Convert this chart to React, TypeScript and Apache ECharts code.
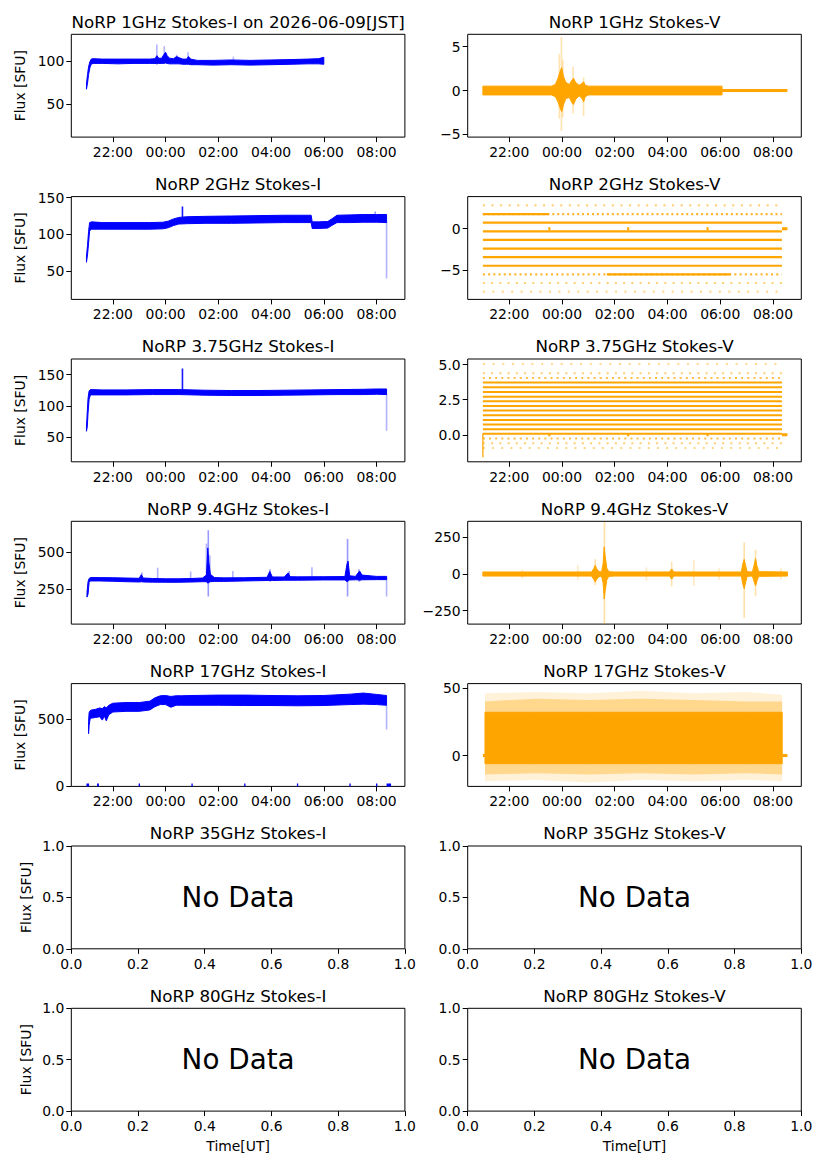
import { useEffect, useRef } from 'react';
import * as echarts from 'echarts';

const FONT = 'DejaVu Sans';
const BLUE = '#0000ff';
const ORANGE = '#ffa500';

// time axis in hours of the JST start day (24 = 00:00 next day)
const timeTicks = [22, 24, 26, 28, 30, 32];
const unitTicks = [0, 0.2, 0.4, 0.6, 0.8, 1];
const timeMin = 20.425;
const timeMax = 33.075;

const titles = [
  'NoRP 1GHz Stokes-I on 2026-06-09[JST]', 'NoRP 1GHz Stokes-V',
  'NoRP 2GHz Stokes-I', 'NoRP 2GHz Stokes-V',
  'NoRP 3.75GHz Stokes-I', 'NoRP 3.75GHz Stokes-V',
  'NoRP 9.4GHz Stokes-I', 'NoRP 9.4GHz Stokes-V',
  'NoRP 17GHz Stokes-I', 'NoRP 17GHz Stokes-V',
  'NoRP 35GHz Stokes-I', 'NoRP 35GHz Stokes-V',
  'NoRP 80GHz Stokes-I', 'NoRP 80GHz Stokes-V',
];

const yMin = [11.4, -5.3, 11.4, -8.54, 9.9, -1.92, 11.4, -341, 0, -22.8, 0, 0, 0, 0];
const yMax = [130.8, 6.4, 151.4, 3.87, 175.2, 5.4, 711, 359, 760, 53.2, 1, 1, 1, 1];
const yTicks = [
  [50, 100], [-5, 0, 5], [50, 100, 150], [-5, 0], [50, 100, 150], [0, 2.5, 5],
  [250, 500], [-250, 0, 250], [0, 500], [0, 50],
  [0, 0.5, 1], [0, 0.5, 1], [0, 0.5, 1], [0, 0.5, 1],
];
const yDecimals = [0, 0, 0, 0, 0, 1, 0, 0, 0, 0, 1, 1, 1, 1];

// 1 GHz Stokes-I
const p1Time = [21.0, 21.04, 21.08, 21.13, 21.18, 21.25, 21.6, 22.2, 22.8, 23.4, 23.6, 23.67, 23.74, 23.85, 23.93, 24.0, 24.06, 24.15, 24.3, 24.42, 24.52, 24.65, 24.8, 24.87, 24.95, 25.2, 25.8, 26.5, 27.2, 28.0, 28.8, 29.4, 29.8, 30.0];
const p1Lo = [67, 74, 84, 92, 96, 97, 97, 96.5, 97, 97, 97, 96.5, 97, 97, 97, 97.5, 97, 96.5, 96.5, 96.5, 96.5, 96, 96, 96, 95.5, 95.5, 95, 95.5, 95, 95.5, 96, 96.5, 96.5, 96];
const p1Hi = [73, 84, 93, 99, 102, 102.5, 102, 102, 102, 102, 102.5, 106, 103, 103, 107, 110, 106, 103, 102.5, 105, 103.5, 102, 102, 105, 102, 100.5, 100.5, 101, 100.5, 101, 101.5, 102, 102.5, 104];
const p1SpikeTime = [23.67, 23.95, 24.42, 24.85, 26.57, 29.95];
const p1SpikeLo = [102, 105, 102, 102, 100, 96];
const p1SpikeHi = [119, 117, 107, 110, 105, 104.5];
const p1SpikeDensity = [0.3, 0.3, 0.3, 0.3, 0.25, 0.5];

// 1 GHz Stokes-V
const p2Time = [21.0, 23.6, 23.75, 23.85, 23.93, 23.99, 24.06, 24.15, 24.28, 24.38, 24.44, 24.52, 24.65, 24.76, 24.82, 24.88, 25.0, 30.07];
const p2Lo = [-0.5, -0.5, -0.7, -1.3, -2.0, -2.4, -1.6, -0.9, -0.8, -1.4, -1.6, -1.0, -0.6, -0.9, -1.3, -0.7, -0.5, -0.5];
const p2Hi = [0.5, 0.5, 0.7, 1.4, 2.2, 2.6, 1.6, 0.9, 0.7, 1.2, 1.4, 0.9, 0.6, 0.8, 1.0, 0.6, 0.5, 0.5];
const p2SpikeTime = [23.9, 23.98, 24.03, 24.42, 24.82];
const p2SpikeLo = [-3.2, -4.6, -3.0, -2.6, -2.9];
const p2SpikeHi = [4.2, 6.1, 3.5, 2.7, 1.5];
const p2SpikeDensity = [0.3, 0.3, 0.3, 0.3, 0.3];
const p2TailStart = [30.07];
const p2TailEnd = [32.55];

// 2 GHz Stokes-I
const p3Time = [21.0, 21.04, 21.08, 21.12, 21.2, 21.6, 22.2, 22.8, 23.4, 23.9, 24.1, 24.3, 24.5, 24.8, 25.5, 26.5, 27.5, 28.5, 29.2, 29.52, 29.56, 29.8, 30.15, 30.3, 30.5, 31.0, 31.5, 32.0, 32.38];
const p3Lo = [62, 72, 88, 105, 107, 107, 107, 107, 107, 107.5, 109, 112, 114, 114.5, 115, 115, 115.5, 116, 116, 116, 108, 108, 108.5, 112, 116, 116, 116.5, 116.5, 116];
const p3Hi = [70, 85, 104, 116, 117, 116, 116, 116, 116, 116.5, 118, 121, 123, 124, 124.5, 125, 125.5, 126, 126, 126, 117, 117, 117.5, 121, 126, 126.5, 127, 127, 127];
const p3SpikeTime = [24.64, 31.95, 32.38];
const p3SpikeLo = [118, 124, 40];
const p3SpikeHi = [138, 131, 118];
const p3SpikeDensity = [0.9, 0.4, 0.3];

// 2 GHz Stokes-V (quantised levels)
const p4Levels = [2.8, 1.76, 0.72, -0.32, -1.36, -2.4, -3.44, -4.48, -5.52, -6.56, -7.6];
const p4Density = [0.2, 0.72, 1, 1, 1, 1, 1, 1, 0.68, 0.25, 0.08];
const p4Start = 21.0;
const p4End = 32.34;
// stretches where a sparse level is filled in densely
const p4DenseLevel = [1.76, -5.52];
const p4DenseStart = [21.0, 25.7];
const p4DenseEnd = [23.5, 30.4];

// zero-valued gaps shared by 2 GHz and 3.75 GHz Stokes-V
const gapStart = [23.48, 26.47, 29.48, 32.34];
const gapEnd = [23.56, 26.55, 29.56, 32.55];

// 3.75 GHz Stokes-I
const p5Time = [21.0, 21.03, 21.06, 21.1, 21.15, 21.6, 22.5, 23.5, 24.5, 25.5, 26.5, 27.5, 28.5, 29.5, 30.5, 31.5, 32.0, 32.38];
const p5Lo = [59, 66, 88, 110, 117.5, 117.5, 117.5, 118, 118, 117, 116.5, 116.5, 117, 117.5, 118, 118, 118.5, 118];
const p5Hi = [66, 90, 112, 124, 126, 125.5, 125.5, 126, 126, 125, 124.5, 124.5, 125, 125.5, 126, 126.5, 127, 127];
const p5SpikeTime = [24.64, 32.38];
const p5SpikeLo = [124, 60];
const p5SpikeHi = [160, 119];
const p5SpikeDensity = [0.9, 0.3];

// 3.75 GHz Stokes-V (quantised levels)
const p6Levels = [5.05, 4.38, 4.05, 3.72, 3.38, 3.05, 2.72, 2.39, 2.06, 1.73, 1.40, 1.06, 0.73, 0.40, 0.07, -0.26, -0.60, -0.93];
const p6Density = [0.04, 0.25, 0.55, 0.85, 1, 1, 1, 1, 1, 1, 1, 1, 1, 1, 1, 0.55, 0.25, 0.12];
const p6Start = 21.0;
const p6End = 32.34;
const p6SpikeTime = [21.0];
const p6SpikeLo = [-1.6];
const p6SpikeHi = [0.1];
const p6SpikeDensity = [0.8];

// 9.4 GHz Stokes-I
const p7Time = [21.02, 21.06, 21.1, 21.15, 21.5, 22.0, 22.5, 23.0, 23.08, 23.15, 23.5, 24.0, 24.5, 25.0, 25.4, 25.55, 25.6, 25.64, 25.7, 25.85, 26.2, 27.0, 27.85, 27.95, 28.05, 28.5, 28.65, 28.72, 29.0, 30.0, 30.8, 30.88, 30.92, 30.98, 31.2, 31.3, 31.36, 31.45, 32.0, 32.38];
const p7Lo = [195, 215, 295, 305, 305, 303, 300, 298, 300, 298, 297, 296, 296, 298, 300, 300, 290, 295, 300, 302, 302, 305, 308, 308, 308, 310, 310, 310, 310, 312, 312, 300, 305, 312, 313, 313, 310, 313, 314, 314];
const p7Hi = [225, 300, 322, 328, 328, 327, 325, 323, 348, 325, 322, 320, 320, 322, 325, 345, 530, 430, 350, 328, 326, 327, 330, 370, 332, 332, 360, 334, 333, 334, 335, 420, 440, 340, 336, 360, 372, 345, 336, 336];
const p7SpikeTime = [25.62, 30.9, 31.33, 27.96, 28.69, 23.1, 23.7, 24.95, 26.55, 29.55, 32.38, 25.55, 25.68];
const p7SpikeLo = [200, 200, 300, 300, 305, 305, 315, 315, 318, 320, 200, 300, 300];
const p7SpikeHi = [650, 590, 385, 385, 372, 362, 395, 370, 372, 398, 335, 560, 480];
const p7SpikeDensity = [0.4, 0.4, 0.4, 0.4, 0.35, 0.35, 0.3, 0.3, 0.3, 0.3, 0.3, 0.3, 0.3];

// 9.4 GHz Stokes-V
const p8Time = [21.0, 25.12, 25.2, 25.26, 25.32, 25.4, 25.5, 25.56, 25.6, 25.64, 25.7, 25.78, 26.0, 28.08, 28.16, 28.24, 30.8, 30.86, 30.91, 30.96, 31.02, 31.22, 31.28, 31.34, 31.4, 31.46, 32.55];
const p8Lo = [-14, -14, -35, -55, -35, -18, -14, -60, -170, -110, -40, -16, -14, -14, -35, -14, -14, -70, -100, -60, -16, -14, -50, -80, -45, -16, -14];
const p8Hi = [14, 14, 35, 60, 35, 18, 14, 70, 185, 120, 40, 16, 14, 14, 35, 14, 14, 70, 100, 60, 16, 14, 55, 105, 50, 16, 14];
const p8SpikeTime = [25.61, 25.26, 30.91, 31.34, 28.16, 24.6, 27.2, 29.0, 22.5, 29.95, 32.3];
const p8SpikeLo = [-340, -75, -300, -150, -85, -40, -45, -80, -30, -40, -35];
const p8SpikeHi = [355, 100, 215, 165, 85, 60, 45, 95, 30, 40, 40];
const p8SpikeDensity = [0.35, 0.35, 0.35, 0.35, 0.3, 0.25, 0.25, 0.25, 0.25, 0.25, 0.25];

// 17 GHz Stokes-I
const p9Time = [21.08, 21.1, 21.14, 21.2, 21.35, 21.5, 21.6, 21.68, 21.75, 21.85, 22.0, 22.5, 23.0, 23.4, 23.6, 23.8, 24.0, 24.2, 24.4, 24.6, 25.0, 26.0, 27.0, 28.0, 29.0, 30.0, 31.0, 31.5, 32.0, 32.38];
const p9Lo = [390, 450, 500, 505, 510, 515, 490, 520, 485, 530, 550, 555, 555, 565, 590, 605, 605, 585, 600, 600, 600, 600, 598, 598, 596, 598, 605, 608, 605, 600];
const p9Hi = [480, 545, 560, 565, 570, 580, 575, 590, 580, 600, 615, 620, 620, 630, 655, 670, 672, 665, 670, 670, 672, 675, 675, 672, 670, 672, 682, 690, 680, 672];
const p9SpikeTime = [32.38];
const p9SpikeLo = [420];
const p9SpikeHi = [600];
const p9SpikeDensity = [0.3];
const p9ZeroStart = [21.0, 21.4, 22.98, 24.98, 26.98, 28.98, 30.97, 31.98, 32.38];
const p9ZeroEnd = [21.1, 21.47, 23.03, 25.03, 27.03, 29.03, 31.02, 32.03, 32.55];

// 17 GHz Stokes-V
const p10Time = [21.08, 23.0, 25.0, 27.0, 29.0, 31.0, 32.35];
const p10Lo = [-6, -6, -6, -6, -6, -6, -6];
const p10Hi = [32, 32, 32, 32, 32, 32, 32];
const p10HazeLo = [-14, -13, -14, -13, -14, -13, -14];
const p10HazeHi = [40, 42, 41, 42, 41, 40, 40];
const p10OuterLo = [-19, -18, -20, -18, -19, -18, -19];
const p10OuterHi = [46, 47, 46, 48, 46, 47, 45];
const p10ZeroStart = [21.0, 32.35];
const p10ZeroEnd = [21.08, 32.55];

// layout of the 7 x 2 panel grid (pixels)
const ROW_TOP = [34.3, 196.6, 359, 521.3, 683.6, 846, 1008.3];
const COL_LEFT = [71.3, 467.7];
const PLOT_W = 333.6;
const PLOT_H = 102.8;

const pick = (v: number | number[], i: number) => (Array.isArray(v) ? v[i] : v);

const fmtTime = (v: number) => String(Math.round(v) % 24).padStart(2, '0') + ':00';
const fmtNum = (d: number) => (v: number) => (v < 0 ? '\u2212' : '') + Math.abs(v).toFixed(d);

// filled envelope between lo and hi
const band = (idx: number, t: number[], lo: number[], hi: number[], color: string, opacity = 1) => ({
  type: 'custom',
  xAxisIndex: idx,
  yAxisIndex: idx,
  clip: true,
  silent: true,
  encode: { x: 0, y: [1, 2] },
  data: t.map((x, i) => [x, lo[i], hi[i]]),
  renderItem: (params: any, api: any) => {
    if (params.dataIndex !== 0) return null;
    const top = t.map((x, i) => api.coord([x, hi[i]]));
    const bottom = t.map((x, i) => api.coord([x, lo[i]])).reverse();
    return {
      type: 'polygon',
      shape: { points: top.concat(bottom) },
      style: { fill: color, stroke: color, lineWidth: opacity < 1 ? 0 : 1, opacity },
    };
  },
});

// vertical scatter streaks
const spikes = (idx: number, t: number[], lo: number[], hi: number[], density: number[], color: string) => ({
  type: 'custom',
  xAxisIndex: idx,
  yAxisIndex: idx,
  clip: true,
  silent: true,
  encode: { x: 0, y: [1, 2] },
  data: t.map((x, i) => [x, lo[i], hi[i], density[i]]),
  renderItem: (_params: any, api: any) => {
    const a = api.coord([api.value(0), api.value(1)]);
    const b = api.coord([api.value(0), api.value(2)]);
    return {
      type: 'line',
      shape: { x1: a[0], y1: a[1], x2: b[0], y2: b[1] },
      style: { stroke: color, lineWidth: 1.6, opacity: api.value(3) },
    };
  },
});

// horizontal runs of constant value (quantised levels, zero gaps)
const flats = (
  idx: number,
  t0: number | number[],
  t1: number | number[],
  y: number[],
  density: number | number[],
  color: string,
  width: number,
) => ({
  type: 'custom',
  xAxisIndex: idx,
  yAxisIndex: idx,
  clip: true,
  silent: true,
  encode: { x: [0, 1], y: 2 },
  data: y.map((v, i) => [pick(t0, i), pick(t1, i), v, pick(density, i)]),
  renderItem: (_params: any, api: any) => {
    const d = api.value(3);
    const a = api.coord([api.value(0), api.value(2)]);
    const b = api.coord([api.value(1), api.value(2)]);
    return {
      type: 'line',
      shape: { x1: a[0], y1: a[1], x2: b[0], y2: b[1] },
      style: {
        stroke: color,
        lineWidth: width,
        opacity: d >= 0.8 ? 1 : 0.4 + 0.6 * d,
        lineDash: d >= 0.8 ? null : [2, 1 + 7 * (1 - d)],
      },
    };
  },
});

const buildOption = () => {
  const grid = titles.map((_, i) => ({
    left: COL_LEFT[i % 2],
    top: ROW_TOP[Math.floor(i / 2)],
    width: PLOT_W,
    height: PLOT_H,
    show: true,
    borderColor: '#000',
    borderWidth: 1,
    containLabel: false,
    outerBoundsMode: 'none',
  }));

  const labelStyle = { fontSize: 13.9, color: '#000', fontFamily: FONT };

  const xAxis = titles.map((_, i) => {
    const timed = i < 10;
    const ticks = timed ? timeTicks : unitTicks;
    return {
      type: 'value',
      gridIndex: i,
      min: timed ? timeMin : 0,
      max: timed ? timeMax : 1,
      axisLine: { show: false, onZero: false },
      axisTick: { show: true, length: 5, customValues: ticks, lineStyle: { color: '#000', width: 1 } },
      axisLabel: { ...labelStyle, customValues: ticks, margin: 8, formatter: timed ? fmtTime : fmtNum(1) },
      splitLine: { show: false },
      name: i >= 12 ? 'Time[UT]' : '',
      nameLocation: 'middle',
      nameGap: 28,
      nameTextStyle: labelStyle,
    };
  });

  const yAxis = titles.map((_, i) => ({
    type: 'value',
    gridIndex: i,
    min: yMin[i],
    max: yMax[i],
    axisLine: { show: false, onZero: false },
    axisTick: { show: true, length: 5, customValues: yTicks[i], lineStyle: { color: '#000', width: 1 } },
    axisLabel: { ...labelStyle, customValues: yTicks[i], margin: 7, formatter: fmtNum(yDecimals[i]) },
    splitLine: { show: false },
    name: i % 2 === 0 ? 'Flux [SFU]' : '',
    nameLocation: 'middle',
    nameRotate: 90,
    nameGap: i < 10 ? 44 : 38,
    nameTextStyle: labelStyle,
  }));

  const series = [
    band(0, p1Time, p1Lo, p1Hi, BLUE),
    spikes(0, p1SpikeTime, p1SpikeLo, p1SpikeHi, p1SpikeDensity, BLUE),

    band(1, p2Time, p2Lo, p2Hi, ORANGE),
    spikes(1, p2SpikeTime, p2SpikeLo, p2SpikeHi, p2SpikeDensity, ORANGE),
    flats(1, p2TailStart, p2TailEnd, [0], 1, ORANGE, 3),

    band(2, p3Time, p3Lo, p3Hi, BLUE),
    spikes(2, p3SpikeTime, p3SpikeLo, p3SpikeHi, p3SpikeDensity, BLUE),

    flats(3, p4Start, p4End, p4Levels, p4Density, ORANGE, 2.2),
    flats(3, p4DenseStart, p4DenseEnd, p4DenseLevel, 1, ORANGE, 2.2),
    flats(3, gapStart, gapEnd, gapStart.map(() => 0), 1, ORANGE, 3),

    band(4, p5Time, p5Lo, p5Hi, BLUE),
    spikes(4, p5SpikeTime, p5SpikeLo, p5SpikeHi, p5SpikeDensity, BLUE),

    flats(5, p6Start, p6End, p6Levels, p6Density, ORANGE, 2),
    flats(5, gapStart, gapEnd, gapStart.map(() => 0), 1, ORANGE, 3),
    spikes(5, p6SpikeTime, p6SpikeLo, p6SpikeHi, p6SpikeDensity, ORANGE),

    spikes(6, p7SpikeTime, p7SpikeLo, p7SpikeHi, p7SpikeDensity, BLUE),
    band(6, p7Time, p7Lo, p7Hi, BLUE),

    spikes(7, p8SpikeTime, p8SpikeLo, p8SpikeHi, p8SpikeDensity, ORANGE),
    band(7, p8Time, p8Lo, p8Hi, ORANGE),

    band(8, p9Time, p9Lo, p9Hi, BLUE),
    spikes(8, p9SpikeTime, p9SpikeLo, p9SpikeHi, p9SpikeDensity, BLUE),
    flats(8, p9ZeroStart, p9ZeroEnd, p9ZeroStart.map(() => 0), 1, BLUE, 6),

    band(9, p10Time, p10OuterLo, p10OuterHi, ORANGE, 0.15),
    band(9, p10Time, p10HazeLo, p10HazeHi, ORANGE, 0.35),
    band(9, p10Time, p10Lo, p10Hi, ORANGE),
    flats(9, p10ZeroStart, p10ZeroEnd, p10ZeroStart.map(() => 0), 1, ORANGE, 3),
  ];

  const graphic = [
    ...titles.map((text, i) => ({
      type: 'text',
      x: COL_LEFT[i % 2] + PLOT_W / 2,
      y: ROW_TOP[Math.floor(i / 2)] - 12.8,
      silent: true,
      style: { text, fill: '#000', fontSize: 16.7, fontFamily: FONT, align: 'center', verticalAlign: 'middle' },
    })),
    ...[10, 11, 12, 13].map((i) => ({
      type: 'text',
      x: COL_LEFT[i % 2] + PLOT_W / 2,
      y: ROW_TOP[Math.floor(i / 2)] + PLOT_H / 2,
      silent: true,
      style: { text: 'No Data', fill: '#000', fontSize: 27.8, fontFamily: FONT, align: 'center', verticalAlign: 'middle' },
    })),
  ];

  return {
    animation: false,
    backgroundColor: '#fff',
    textStyle: { fontFamily: FONT },
    grid,
    xAxis,
    yAxis,
    series,
    graphic,
  };
};

const App = () => {
  const chartRef = useRef<HTMLDivElement>(null);

  useEffect(() => {
    if (!chartRef.current) return;
    const chart = echarts.init(chartRef.current, null, { renderer: 'svg' });
    chart.setOption(buildOption() as any);
    return () => {
      chart.dispose();
    };
  }, []);

  return (
    <div
      ref={chartRef}
      style={{ position: 'absolute', left: 0, top: 0, width: 827, height: 1169, background: '#fff' }}
    />
  );
};

export default App;
